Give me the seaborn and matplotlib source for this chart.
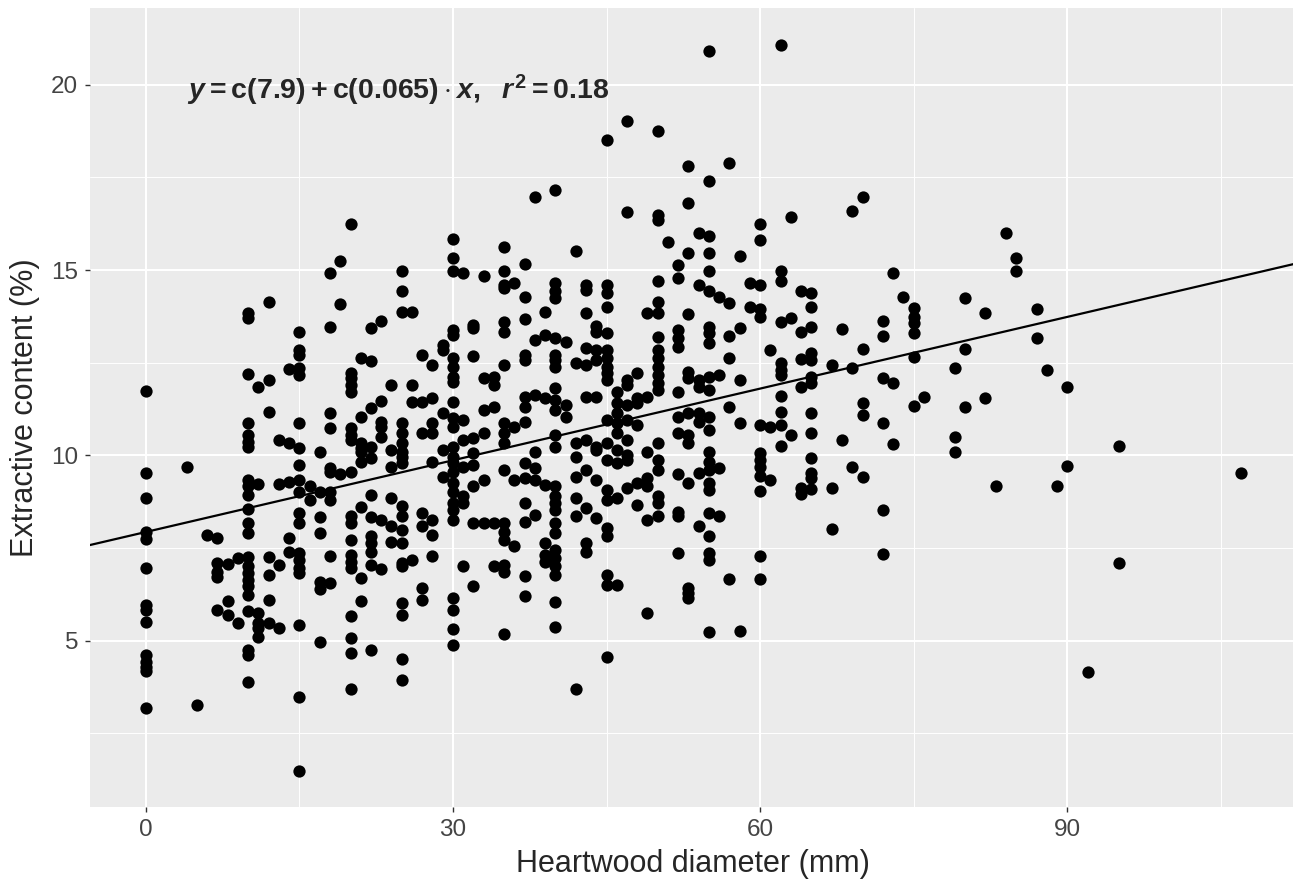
import numpy as np
import pandas as pd
import seaborn as sns
import matplotlib.pyplot as plt
from matplotlib.ticker import MultipleLocator

# Heartwood diameter (mm) / extractive content (%)
heartwood_mm = [
    20, 19, 18,
    47, 50, 45, 38, 40, 47, 50, 50, 51, 30, 30, 35, 37, 42, 52,
    55, 62, 53, 57, 55, 53, 70, 69, 63, 60, 60, 54, 55, 53, 55, 58,
    84, 85,
    12, 10, 10, 19, 18, 22, 23, 15, 15, 15,
    21, 22, 14, 15, 15, 10, 12, 11, 0, 20,
    20, 20, 20, 24, 23, 22, 21, 23, 23, 23,
    18, 18, 20, 20, 20, 21, 21, 22, 21, 21,
    22, 24, 24, 12, 10, 10, 10, 10, 15, 13,
    14, 15, 17, 18, 18, 19, 20, 15, 0, 4,
    0, 10, 10, 10, 11, 13, 14, 15, 15, 16,
    16, 17, 18, 18, 22, 24, 21, 22, 23, 24,
    10, 10, 10, 15, 15, 17, 17, 20, 20, 20,
    22, 22, 0, 0, 6, 7, 14, 24,
    0, 0, 0, 0, 0, 0, 0, 0, 0, 5,
    7, 8, 7, 7, 9, 10, 10, 10, 10, 10,
    10, 12, 13, 12, 14, 15, 15, 15, 15, 18,
    17, 18, 17, 20, 20, 20, 21, 22, 22, 23,
    21, 20, 20, 20, 22, 20, 8, 7, 8, 9,
    10, 11, 11, 11, 11, 12, 13, 12, 10, 10,
    10, 15, 17, 15, 15,
    25, 25, 26, 25, 30, 31, 33, 35, 35, 36,
    35, 37, 40, 40, 40, 43, 43, 45, 45, 45,
    50, 50, 49, 50, 30, 30, 29, 29, 32, 32,
    35, 35, 37, 39, 43, 27, 28, 30, 30, 30,
    30, 32, 33, 34, 34, 35, 37, 37, 38, 39,
    40, 41, 40, 40, 40, 42, 43, 44, 44, 45,
    44, 45, 45, 43, 44, 45, 45, 45, 46, 47,
    47, 48, 50, 50, 50, 50, 50, 50, 50, 49,
    48, 48, 47, 26, 26, 27, 28, 30, 29, 30,
    31, 30, 28, 27, 28, 25, 25, 25, 25, 25,
    25, 33, 34, 33, 32, 31, 31, 30, 30, 30,
    29, 28, 29, 30, 30, 30, 32, 32, 33, 32,
    35, 35, 36, 37, 35, 37, 37, 38, 39, 40,
    40, 40, 41, 41, 40, 40, 38, 37, 38, 35,
    36, 37, 38, 39, 40, 40, 40, 40, 40, 40,
    42, 42, 43, 44, 43, 44, 45, 46, 46, 46,
    46, 47, 48, 47, 46, 45, 46, 47, 47, 45,
    44, 43, 44, 42, 42, 43, 44, 42, 45, 45,
    46, 47, 48, 49, 49, 49, 50, 50, 50, 50,
    50, 48, 49, 50, 25, 25, 25, 25, 27, 28,
    27, 28, 30, 30, 30, 31, 31, 32, 33, 34,
    35, 35, 35, 36, 37, 38, 37, 45, 45, 43,
    39,
    55, 62, 73, 52, 54, 55, 56, 57, 59, 60,
    62, 64, 65, 65, 53, 59, 60, 60, 62, 63,
    64, 65, 52, 52, 52, 55, 55, 55, 57, 58,
    57, 61, 62, 62, 62, 64, 65, 65, 67, 69,
    68, 70, 72, 72, 74, 75, 75, 75, 75, 75,
    80, 80, 79, 53, 53, 54, 54, 55, 55, 56,
    58, 52, 64, 65, 65, 72, 73, 70, 70, 75,
    76, 80, 62, 57, 62, 65, 52, 53, 54, 54,
    55, 55, 58, 60, 61, 62, 63, 62, 52, 53,
    53, 65, 68, 72, 73, 79, 79, 55, 55, 55,
    54, 52, 53, 56, 55, 55, 60, 60, 60, 60,
    61, 60, 65, 65, 65, 64, 64, 65, 67, 69,
    70, 72, 67, 52, 52, 55, 56, 54, 55,
    85, 82, 87, 87, 88, 90, 82, 95, 90, 83,
    89, 107,
    25, 25, 26, 28, 27, 27, 25, 25, 25, 25,
    30, 30, 30, 30, 31, 32, 34, 35, 35, 37,
    37, 35, 39, 39, 40, 40, 40, 40, 40, 42,
    43, 45, 45, 46, 45, 49, 52, 40,
    55, 55, 60, 57, 60, 53, 53, 53, 55, 58, 72,
    95, 92,
]

extractive_pct = [
    16.24, 15.24, 14.92,
    19.02, 18.75, 18.50, 16.97, 17.17, 16.57, 16.48, 16.35, 15.76, 15.85, 15.33, 15.61, 15.16, 15.52, 15.13,
    20.91, 21.07, 17.81, 17.89, 17.41, 16.81, 16.97, 16.60, 16.44, 16.24, 15.81, 16.01, 15.91, 15.47, 15.47, 15.39,
    16.00, 15.33,
    14.15, 13.83, 13.70, 14.07, 13.47, 13.43, 13.63, 13.32, 12.84, 12.71,
    12.62, 12.55, 12.32, 12.35, 12.17, 12.19, 12.03, 11.83, 11.74, 12.21,
    12.08, 11.90, 11.72, 11.90, 11.47, 11.27, 11.03, 10.91, 10.77, 10.50,
    11.13, 10.73, 10.73, 10.55, 10.41, 10.32, 10.19, 10.23, 10.10, 9.83,
    9.92, 10.14, 9.69, 11.18, 10.88, 10.55, 10.37, 10.23, 10.86, 10.41,
    10.34, 10.21, 10.10, 9.65, 9.56, 9.50, 9.56, 9.74, 9.53, 9.69,
    8.84, 9.33, 9.16, 8.93, 9.22, 9.22, 9.29, 9.33, 9.02, 9.16,
    8.80, 9.02, 9.02, 8.80, 8.93, 8.84, 8.60, 8.33, 8.26, 8.08,
    8.54, 8.17, 7.90, 8.44, 8.17, 8.33, 7.90, 8.35, 8.17, 7.72,
    7.81, 7.63, 7.94, 7.73, 7.85, 7.76, 7.76, 7.67,
    6.95, 5.96, 5.83, 5.51, 4.61, 4.43, 4.30, 4.19, 3.17, 3.25,
    7.09, 7.07, 6.86, 6.71, 7.22, 7.25, 7.01, 6.82, 6.64, 6.46,
    6.23, 7.25, 7.04, 6.77, 7.40, 7.36, 7.18, 6.95, 6.82, 7.28,
    6.59, 6.55, 6.38, 7.31, 7.13, 6.95, 6.68, 7.40, 7.04, 6.92,
    6.07, 5.67, 5.06, 4.66, 4.75, 3.69, 6.07, 5.83, 5.69, 5.47,
    5.80, 5.75, 5.47, 5.33, 5.11, 5.47, 5.33, 6.10, 4.75, 4.61,
    3.89, 5.42, 4.97, 3.49, 1.47,
    14.44, 13.88, 13.88, 14.96, 14.96, 14.91, 14.84, 14.96, 14.60, 14.64,
    14.51, 14.28, 14.64, 14.44, 14.24, 14.60, 14.46, 14.60, 14.37, 14.01,
    14.69, 14.13, 13.83, 13.83, 13.38, 13.25, 12.98, 12.84, 13.52, 13.43,
    13.61, 13.34, 13.67, 13.88, 13.85, 12.71, 12.44, 12.62, 12.39, 12.12,
    11.99, 12.68, 12.08, 12.12, 11.90, 12.44, 12.71, 12.57, 13.11, 13.25,
    13.16, 13.07, 12.71, 12.57, 12.39, 12.48, 12.89, 13.49, 13.34, 13.29,
    12.84, 12.84, 12.62, 12.44, 12.57, 12.39, 12.21, 12.03, 11.72, 12.03,
    11.90, 12.21, 13.20, 12.84, 12.62, 12.39, 12.17, 11.94, 11.76, 11.58,
    11.54, 11.40, 11.36, 11.90, 11.45, 11.45, 11.54, 11.45, 11.13, 11.00,
    10.95, 10.77, 10.86, 10.59, 10.59, 10.86, 10.59, 10.32, 10.10, 9.96,
    9.78, 11.22, 11.31, 10.59, 10.46, 10.41, 9.69, 10.23, 9.96, 9.78,
    10.14, 9.83, 9.42, 9.56, 9.24, 9.02, 10.05, 9.74, 9.33, 9.16,
    10.86, 10.59, 10.77, 10.91, 10.32, 11.58, 11.31, 11.63, 11.54, 11.81,
    11.49, 11.22, 11.36, 11.04, 10.55, 10.23, 10.10, 9.78, 9.65, 9.60,
    9.33, 9.38, 9.33, 9.20, 9.16, 8.89, 8.71, 8.53, 8.17, 7.90,
    10.32, 9.96, 11.58, 11.58, 10.41, 10.23, 10.95, 11.40, 11.13, 10.86,
    10.59, 10.95, 10.82, 10.41, 10.14, 9.87, 9.78, 9.87, 10.01, 10.32,
    10.14, 9.60, 9.33, 9.42, 8.84, 8.57, 8.30, 8.35, 9.07, 8.80,
    8.84, 9.11, 9.24, 9.38, 9.16, 10.10, 10.32, 9.87, 9.60, 8.89,
    8.71, 8.66, 8.26, 8.35, 8.62, 8.35, 7.99, 7.63, 8.44, 8.26,
    8.08, 7.85, 8.71, 8.53, 8.26, 8.89, 8.71, 8.17, 8.17, 8.17,
    8.17, 7.94, 7.72, 7.54, 8.71, 8.39, 8.21, 8.03, 7.81, 7.63,
    7.63,
    14.96, 14.96, 14.93, 14.78, 14.60, 14.44, 14.28, 14.12, 14.64, 14.60,
    14.69, 14.44, 14.39, 13.99, 13.80, 14.01, 13.94, 13.74, 13.61, 13.70,
    13.34, 13.47, 13.38, 13.16, 12.93, 13.47, 13.29, 13.02, 13.22, 13.43,
    12.62, 12.84, 12.48, 12.30, 12.17, 12.59, 12.75, 12.57, 12.44, 12.35,
    13.40, 12.86, 13.62, 13.22, 14.28, 13.97, 13.74, 13.56, 13.29, 12.66,
    14.24, 12.86, 12.35, 12.26, 12.08, 12.03, 11.85, 12.12, 11.76, 12.17,
    12.03, 11.72, 11.85, 12.12, 11.94, 12.08, 11.94, 11.40, 11.09, 11.33,
    11.56, 11.30, 11.60, 11.31, 11.18, 11.13, 11.04, 11.13, 11.13, 10.91,
    11.04, 10.68, 10.88, 10.82, 10.77, 10.82, 10.55, 10.25, 10.59, 10.55,
    10.32, 10.61, 10.41, 10.88, 10.31, 10.50, 10.10, 10.10, 9.83, 9.60,
    9.51, 9.50, 9.24, 9.65, 9.24, 9.07, 10.05, 9.86, 9.69, 9.44,
    9.34, 9.05, 9.92, 9.51, 9.38, 9.11, 8.96, 9.08, 9.11, 9.69,
    9.41, 8.53, 8.00, 8.48, 8.35, 8.45, 8.35, 8.08, 7.81,
    14.96, 13.83, 13.95, 13.17, 12.30, 11.85, 11.54, 10.25, 9.71, 9.16,
    9.16, 9.51,
    7.09, 7.00, 7.18, 7.27, 6.41, 6.10, 6.01, 5.69, 4.50, 3.94,
    6.14, 5.83, 5.31, 4.88, 7.01, 6.46, 7.00, 7.04, 6.86, 6.74,
    6.20, 5.17, 7.31, 7.13, 7.22, 7.00, 6.77, 6.05, 5.36, 3.69,
    7.40, 6.77, 6.50, 6.50, 4.57, 5.74, 7.36, 7.45,
    7.36, 7.18, 7.27, 6.65, 6.65, 6.41, 6.28, 6.14, 5.22, 5.27, 7.34,
    7.10, 4.16,
]

# fitted line as drawn, and its label
fit_intercept = 7.93
fit_slope = 0.0645
eq_label = r'$y = \mathrm{c(7.9)} + \mathrm{c(0.065)} \cdot x,\ \ r^2 = \mathrm{0.18}$'

df = pd.DataFrame({'Heartwood': heartwood_mm, 'Extractive': extractive_pct})

sns.set_theme(style='darkgrid', rc={'axes.facecolor': '#EBEBEB', 'grid.color': 'white'})
plt.rcParams['font.family'] = ['Liberation Sans', 'DejaVu Sans']
plt.rcParams['mathtext.fontset'] = 'custom'
plt.rcParams['mathtext.rm'] = 'Liberation Sans:bold'
plt.rcParams['mathtext.it'] = 'Liberation Sans:italic:bold'
plt.rcParams['mathtext.bf'] = 'Liberation Sans:bold'

fig = plt.figure(figsize=(12.93, 8.83), dpi=100)
ax = fig.add_axes([90 / 1293, 76 / 883, 1206 / 1293, 799 / 883])

xlim = (-5.44, 112.33)
sns.scatterplot(data=df, x='Heartwood', y='Extractive', color='black',
                s=78, linewidth=0, ax=ax, zorder=3)

line_x = np.array(xlim)
sns.lineplot(x=line_x, y=fit_intercept + fit_slope * line_x, color='black',
             linewidth=1.6, ax=ax, zorder=4)

ax.set_xlim(xlim)
ax.set_ylim(0.51, 22.07)
ax.xaxis.set_major_locator(MultipleLocator(30))
ax.xaxis.set_minor_locator(MultipleLocator(15))
ax.yaxis.set_major_locator(MultipleLocator(5))
ax.yaxis.set_minor_locator(MultipleLocator(2.5))
ax.grid(which='major', color='white', linewidth=1.5)
ax.grid(which='minor', color='white', linewidth=0.7)
ax.set_axisbelow(True)

ax.tick_params(which='major', bottom=True, left=True, length=3.5, width=1,
               color='#333333', labelsize=17.5, labelcolor='#444444', pad=5)
ax.tick_params(which='minor', bottom=False, left=False)
for side in ax.spines.values():
    side.set_visible(False)

ax.set_xlabel('Heartwood diameter (mm)', fontsize=22, labelpad=6)
ax.set_ylabel('Extractive content (%)', fontsize=22, labelpad=8)

ax.text(4.0, 19.85, eq_label, fontsize=20.5, ha='left', va='center', zorder=5)

fig.savefig('out.png', dpi=100)
plt.close()
